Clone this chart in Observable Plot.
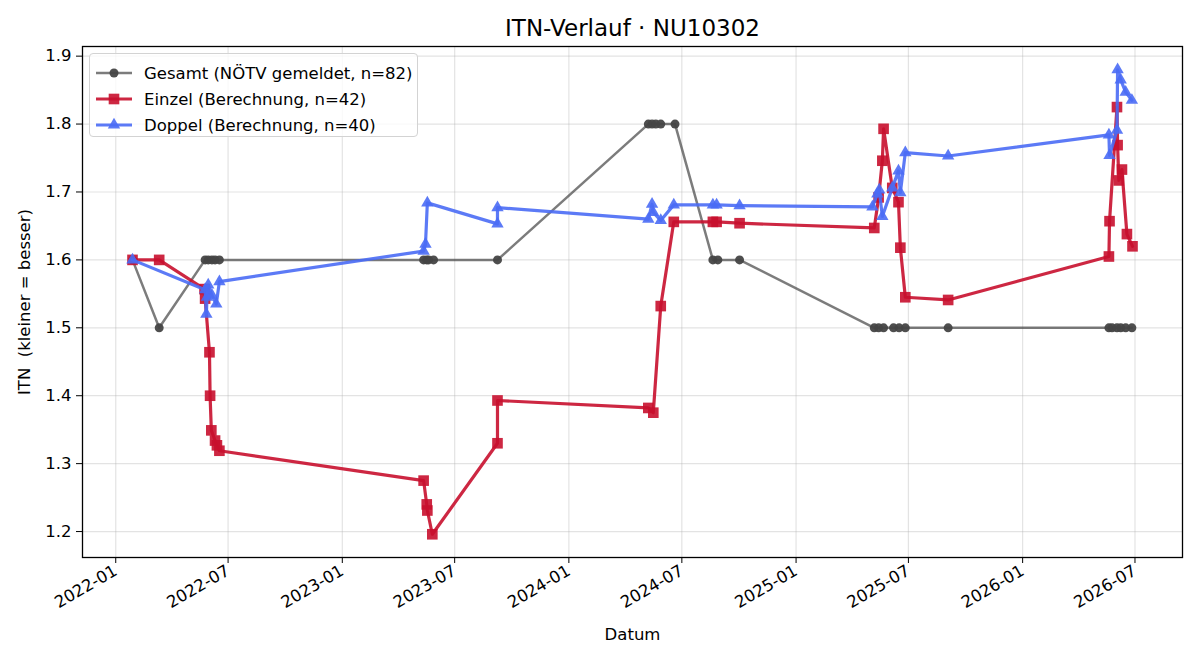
<!DOCTYPE html>
<html>
<head>
<meta charset="utf-8">
<script src="https://cdn.jsdelivr.net/npm/d3@7"></script>
<script src="https://cdn.jsdelivr.net/npm/@observablehq/plot@0.6"></script>
<style>
  body { margin: 0; background: #fff; font-family: "DejaVu Sans", sans-serif; }
  #wrap { position: relative; width: 1200px; height: 660px; }
  svg text { white-space: pre; }
  .legend {
    position: absolute; left: 89px; top: 53px; width: 329px; height: 84px;
    box-sizing: border-box; padding: 6px 0 0 6px;
    border: 1px solid #d3d3d3; border-radius: 4px; background: rgba(255,255,255,0.8);
    font: 16.5px "DejaVu Sans", sans-serif; color: #000;
  }
  .legend .row { display: flex; align-items: center; height: 26px; }
  .legend svg { flex: none; }
</style>
</head>
<body>
<div id="wrap"></div>
<script>
// ITN history for player NU10302: reported overall value and computed singles/doubles values
const gesamtDates = ["2022-01-28","2022-03-12","2022-05-25","2022-05-30","2022-06-05","2022-06-10","2022-06-17",
  "2023-05-12","2023-05-17","2023-05-20","2023-05-28","2023-09-08",
  "2024-05-08","2024-05-14","2024-05-20","2024-05-28","2024-06-20","2024-08-20","2024-08-28","2024-10-02",
  "2025-05-07","2025-05-14","2025-05-22","2025-06-07","2025-06-16","2025-06-26","2025-09-03",
  "2026-05-20","2026-05-25","2026-06-02","2026-06-08","2026-06-16","2026-06-26"];
const gesamtITN = [1.6,1.5,1.6,1.6,1.6,1.6,1.6,
  1.6,1.6,1.6,1.6,1.6,
  1.8,1.8,1.8,1.8,1.8,1.6,1.6,1.6,
  1.5,1.5,1.5,1.5,1.5,1.5,1.5,
  1.5,1.5,1.5,1.5,1.5,1.5];

const einzelDates = ["2022-01-28","2022-03-12","2022-05-24","2022-05-25","2022-06-01","2022-06-02","2022-06-04","2022-06-10","2022-06-13","2022-06-17",
  "2023-05-12","2023-05-17","2023-05-18","2023-05-26","2023-09-08","2023-09-08",
  "2024-05-08","2024-05-16","2024-05-28","2024-06-18","2024-08-20","2024-08-26","2024-10-02",
  "2025-05-07","2025-05-14","2025-05-20","2025-05-22","2025-06-05","2025-06-15","2025-06-18","2025-06-26","2025-09-03",
  "2026-05-20","2026-05-21","2026-06-02","2026-06-03","2026-06-05","2026-06-10","2026-06-18","2026-06-27"];
const einzelITN = [1.600,1.600,1.557,1.543,1.464,1.400,1.349,1.334,1.327,1.319,
  1.275,1.240,1.231,1.196,1.330,1.393,
  1.382,1.375,1.532,1.656,1.656,1.656,1.654,
  1.647,1.692,1.746,1.793,1.706,1.685,1.618,1.545,1.541,
  1.605,1.657,1.825,1.769,1.717,1.733,1.638,1.620];

const doppelDates = ["2022-01-28","2022-05-25","2022-05-27","2022-05-28","2022-05-30","2022-06-05","2022-06-12","2022-06-17",
  "2023-05-12","2023-05-15","2023-05-18","2023-09-08","2023-09-08",
  "2024-05-08","2024-05-14","2024-05-16","2024-05-28","2024-06-18","2024-08-20","2024-08-26","2024-10-02",
  "2025-05-04","2025-05-12","2025-05-15","2025-05-20","2025-06-05","2025-06-15","2025-06-18","2025-06-26","2025-09-03",
  "2026-05-20","2026-05-21","2026-06-02","2026-06-03","2026-06-08","2026-06-16","2026-06-26"];
const doppelITN = [1.600,1.556,1.520,1.545,1.563,1.548,1.535,1.568,
  1.613,1.623,1.684,1.653,1.677,
  1.660,1.682,1.670,1.658,1.681,1.681,1.681,1.680,
  1.678,1.697,1.703,1.664,1.706,1.731,1.699,1.758,1.753,
  1.784,1.754,1.791,1.880,1.865,1.847,1.835];

const xTickLabels = ["2022-01","2022-07","2023-01","2023-07","2024-01","2024-07","2025-01","2025-07","2026-01","2026-07"];
const yTicks = [1.2,1.3,1.4,1.5,1.6,1.7,1.8,1.9];

const seriesNames = ["Gesamt (NÖTV gemeldet, n=82)","Einzel (Berechnung, n=42)","Doppel (Berechnung, n=40)"];
const seriesColors = ["#444444","#c8102e","#4a6cf5"];
const seriesSymbols = ["circle","square","triangle"];

const parseDay = d3.utcParse("%Y-%m-%d");
const parseMonth = d3.utcParse("%Y-%m");
const toRows = (dates, vals) => dates.map((d, i) => ({date: parseDay(d), itn: vals[i]}));
const gesamt = toRows(gesamtDates, gesamtITN);
const einzel = toRows(einzelDates, einzelITN);
const doppel = toRows(doppelDates, doppelITN);
const all = [...gesamt, ...einzel, ...doppel];

// 5% padding around the data extent on both axes
function padded(ext) {
  const a = +ext[0], b = +ext[1], p = (b - a) * 0.05;
  return [a - p, b + p];
}
const xd = padded(d3.extent(all, d => d.date));
const xDomain = [new Date(xd[0]), new Date(xd[1])];
const yDomain = padded(d3.extent(all, d => d.itn));
const xTicks = xTickLabels.map(parseMonth);

const style = [
  {line: {strokeWidth: 2.5, strokeOpacity: 0.7}, dot: {r: 4.5, fillOpacity: 0.95}},
  {line: {strokeWidth: 3.2, strokeOpacity: 0.9}, dot: {r: 6.0, fillOpacity: 0.9}},
  {line: {strokeWidth: 3.2, strokeOpacity: 0.9}, dot: {r: 4.6, fillOpacity: 0.9}}
];
const datasets = [gesamt, einzel, doppel];

const seriesMarks = datasets.flatMap((data, i) => [
  Plot.line(data, {x: "date", y: "itn", stroke: seriesColors[i], ...style[i].line}),
  Plot.dot(data, {x: "date", y: "itn", fill: seriesColors[i], symbol: seriesSymbols[i], ...style[i].dot})
]);

const chart = Plot.plot({
  width: 1200,
  height: 660,
  marginLeft: 82,
  marginRight: 18,
  marginTop: 46,
  marginBottom: 103,
  style: {fontFamily: "DejaVu Sans, sans-serif", fontSize: "16.5px", background: "#fff", color: "#000"},
  x: {type: "utc", domain: xDomain},
  y: {domain: yDomain},
  marks: [
    Plot.gridX(xTicks, {stroke: "#b0b0b0", strokeOpacity: 0.35, strokeWidth: 1.2}),
    Plot.gridY(yTicks, {stroke: "#b0b0b0", strokeOpacity: 0.35, strokeWidth: 1.2}),
    Plot.axisX(xTicks, {
      tickFormat: d3.utcFormat("%Y-%m"), tickRotate: -30, tickSize: 6, tickPadding: 6,
      label: "Datum", labelAnchor: "center", labelOffset: 82, labelArrow: "none"
    }),
    Plot.axisY(yTicks, {
      tickFormat: ".1f", tickSize: 6, tickPadding: 5,
      label: "ITN  (kleiner = besser)", labelAnchor: "center", labelOffset: 64, labelArrow: "none"
    }),
    ...seriesMarks,
    Plot.frame({stroke: "#000", strokeWidth: 1.3}),
    Plot.text(["ITN-Verlauf · NU10302"], {frameAnchor: "top", dy: -18, fontSize: 23, lineAnchor: "middle"})
  ]
});

const wrap = document.getElementById("wrap");
wrap.appendChild(chart);

// Legend box in the upper left of the plot area
const legend = document.createElement("div");
legend.className = "legend";
const symbolTypes = {circle: d3.symbolCircle, square: d3.symbolSquare, triangle: d3.symbolTriangle};
seriesNames.forEach((name, i) => {
  const row = document.createElement("div");
  row.className = "row";
  const r = style[i].dot.r;
  const path = d3.symbol(symbolTypes[seriesSymbols[i]], Math.PI * r * r)();
  row.innerHTML =
    `<svg width="48" height="20"><line x1="0" x2="36" y1="10" y2="10" stroke="${seriesColors[i]}" stroke-width="${style[i].line.strokeWidth}" stroke-opacity="${style[i].line.strokeOpacity}"/>` +
    `<path d="${path}" transform="translate(18,10)" fill="${seriesColors[i]}" fill-opacity="${style[i].dot.fillOpacity}"/></svg><span>${name}</span>`;
  legend.appendChild(row);
});
wrap.appendChild(legend);
</script>
</body>
</html>
